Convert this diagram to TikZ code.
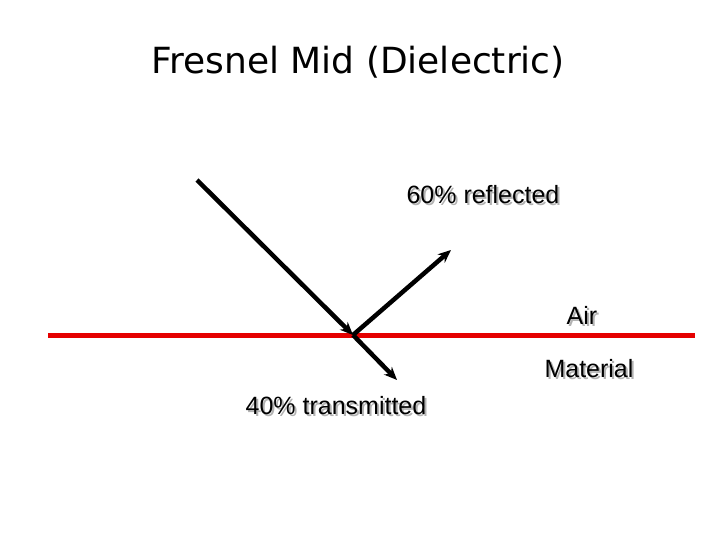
\documentclass[tikz,border=0pt]{standalone}
\usepackage{fontspec}
\setmainfont{Liberation Sans}
\newfontfamily\titlefont{DejaVu Sans}
\usetikzlibrary{arrows.meta,calc}
\begin{document}
\begin{tikzpicture}[x=1pt,y=-1pt,
  ray/.style={line width=4.5pt,-{Stealth[length=13pt,width=11pt]}},
  lbl/.style={font=\fontsize{25}{28}\selectfont, text=black},
  shadow/.style={font=\fontsize{25}{28}\selectfont, text=gray!60}]
\useasboundingbox (0,0) rectangle (720,540);
\node[font=\titlefont\fontsize{36}{40}\selectfont] (title) at (358,62) {Fresnel Mid (Dielectric)};
\coordinate (a) at (48,335);
\coordinate (b) at (695,335);
\draw[red!90!black, line width=5pt] (a) -- (b);
\coordinate (src) at (197,180);
\coordinate (hit) at (353,335);
\coordinate (refl) at (451,250);
\coordinate (tran) at (397,380);
\draw[ray] (src) -- (hit);
\draw[ray] (hit) -- (refl);
\draw[ray] (hit) -- (tran);
\foreach \t/\p/\n in {60\% reflected/{483,195}/r, Air/{582,315}/air, Material/{589,369}/mat, 40\% transmitted/{336,406}/tr}{
  \node[shadow] at ($(\p)+(2,2)$) {\t};
  \node[lbl] (\n) at (\p) {\t};
}
\end{tikzpicture}
\end{document}
